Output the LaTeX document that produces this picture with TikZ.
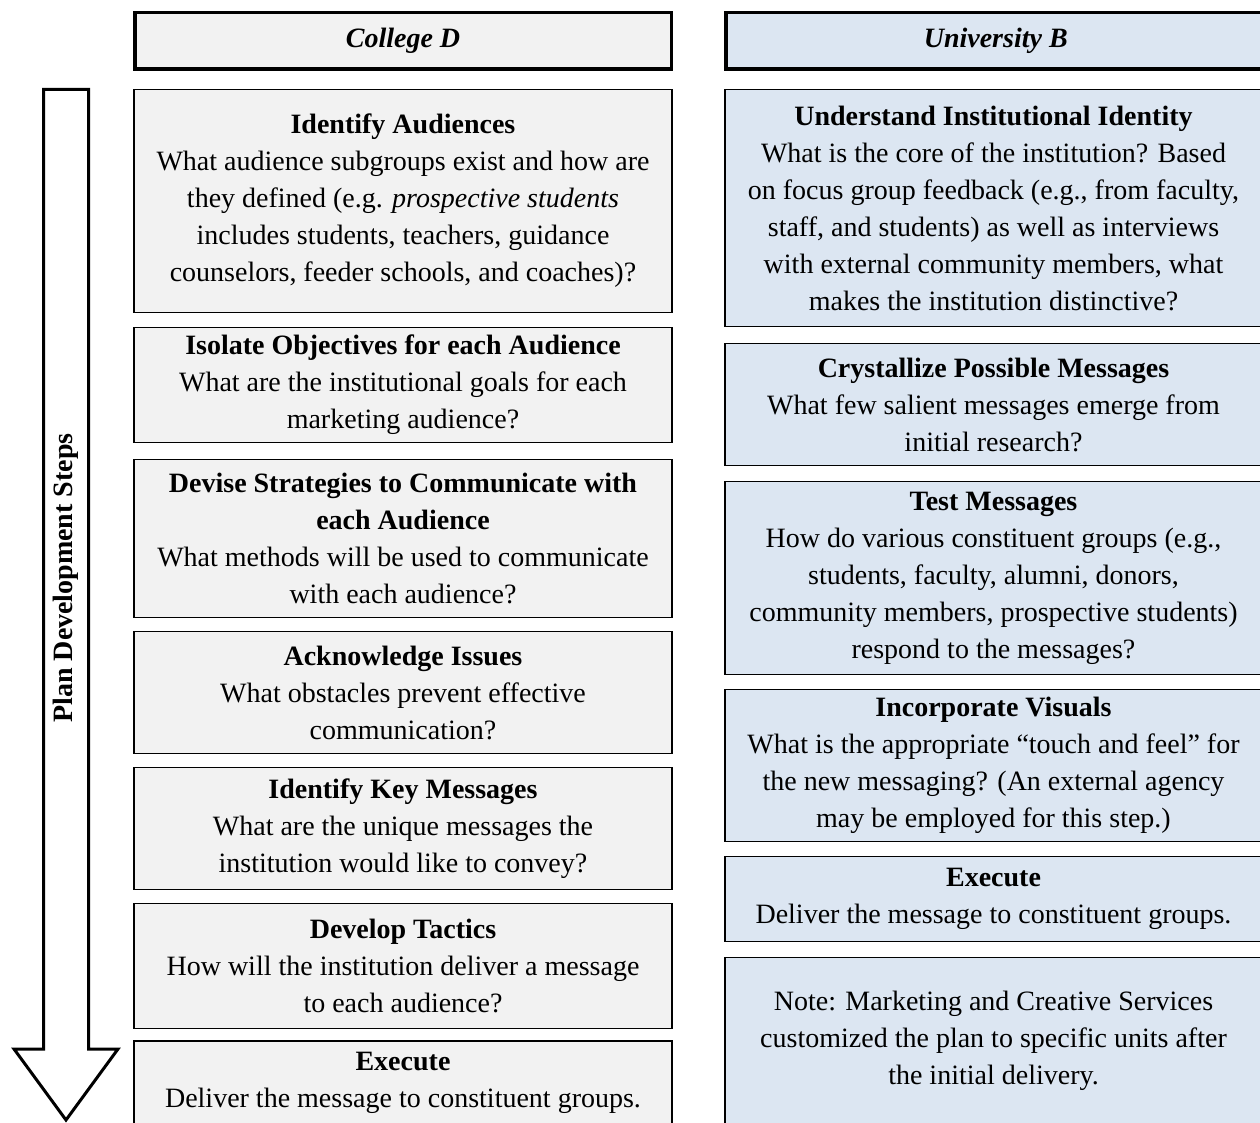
\documentclass[tikz,border=0pt]{standalone}
\usepackage{fontspec}
\setmainfont{Liberation Serif}
\begin{document}
\begin{tikzpicture}[x=0.5pt,y=-0.5pt,
  txt/.style={font=\fontsize{14}{18.5}\selectfont, align=center, inner sep=0pt},
  stepbox/.style={txt, draw=black, line width=0.8pt, minimum width=269pt},
  leftbox/.style={stepbox, fill=leftfill},
  rightbox/.style={stepbox, fill=rightfill, minimum width=268.5pt},
  headbox/.style={txt, draw=black, line width=1.75pt, minimum height=28.25pt,
    font=\fontsize{14}{18.5}\selectfont\bfseries\itshape}
]
\definecolor{leftfill}{HTML}{F2F2F2}
\definecolor{rightfill}{HTML}{DCE6F2}
\clip (0,0) rectangle (1260,1123);
\useasboundingbox (0,0) rectangle (1260,1123);
\fill[white] (0,0) rectangle (1260,1123);

% column headers
\node[headbox, fill=leftfill, minimum width=268.25pt] (hl) at (403,40.75) {College D};
\node[headbox, fill=rightfill, minimum width=270pt] (hr) at (995.75,40.75) {University B};

% downward arrow with its label
\draw[line width=1.5pt, fill=white, line join=miter]
  (43.5,89.5) -- (88.5,89.5) -- (88.5,1049) -- (118,1049) -- (66,1120)
  -- (14,1049) -- (43.5,1049) -- cycle;
\node[txt, font=\fontsize{14}{18.5}\selectfont\bfseries, rotate=90] (arrowlabel) at (66,578) {Plan Development Steps};

% College D steps
\node[leftbox, minimum height=111.5pt] (l1) at (403,201) {\textbf{Identify Audiences}\\
  What audience subgroups exist and how are\\
  they defined (e.g. \textit{prospective students}\\
  includes students, teachers, guidance\\
  counselors, feeder schools, and coaches)?};
\node[leftbox, minimum height=57.5pt] (l2) at (403,385) {\textbf{Isolate Objectives for each Audience}\\
  What are the institutional goals for each\\
  marketing audience?};
\node[leftbox, minimum height=79pt] (l3) at (403,538.5) {\textbf{Devise Strategies to Communicate with}\\
  \textbf{each Audience}\\
  What methods will be used to communicate\\
  with each audience?};
\node[leftbox, minimum height=61pt] (l4) at (403,692.5) {\textbf{Acknowledge Issues}\\
  What obstacles prevent effective\\
  communication?};
\node[leftbox, minimum height=61pt] (l5) at (403,828.5) {\textbf{Identify Key Messages}\\
  What are the unique messages the\\
  institution would like to convey?};
\node[leftbox, minimum height=62.5pt] (l6) at (403,966) {\textbf{Develop Tactics}\\
  How will the institution deliver a message\\
  to each audience?};
\node[leftbox, minimum height=41.5pt] (l7) at (403,1082.5) {\textbf{Execute}\\
  Deliver the message to constituent groups.};

% University B steps
\node[rightbox, minimum height=118.5pt] (r1) at (993.5,208) {\textbf{Understand Institutional Identity}\\
  What is the core of the institution? Based\\
  on focus group feedback (e.g., from faculty,\\
  staff, and students) as well as interviews\\
  with external community members, what\\
  makes the institution distinctive?};
\node[rightbox, minimum height=61pt] (r2) at (993.5,404.5) {\textbf{Crystallize Possible Messages}\\
  What few salient messages emerge from\\
  initial research?};
\node[rightbox, minimum height=96.5pt] (r3) at (993.5,578) {\textbf{Test Messages}\\
  How do various constituent groups (e.g.,\\
  students, faculty, alumni, donors,\\
  community members, prospective students)\\
  respond to the messages?};
\node[rightbox, minimum height=76pt] (r4) at (993.5,765.5) {\textbf{Incorporate Visuals}\\
  What is the appropriate “touch and feel” for\\
  the new messaging? (An external agency\\
  may be employed for this step.)};
\node[rightbox, minimum height=42.5pt] (r5) at (993.5,899) {\textbf{Execute}\\
  Deliver the message to constituent groups.};
\node[rightbox, minimum height=83pt] (r6) at (993.5,1040.5) {Note: Marketing and Creative Services\\
  customized the plan to specific units after\\
  the initial delivery.};
\end{tikzpicture}
\end{document}
